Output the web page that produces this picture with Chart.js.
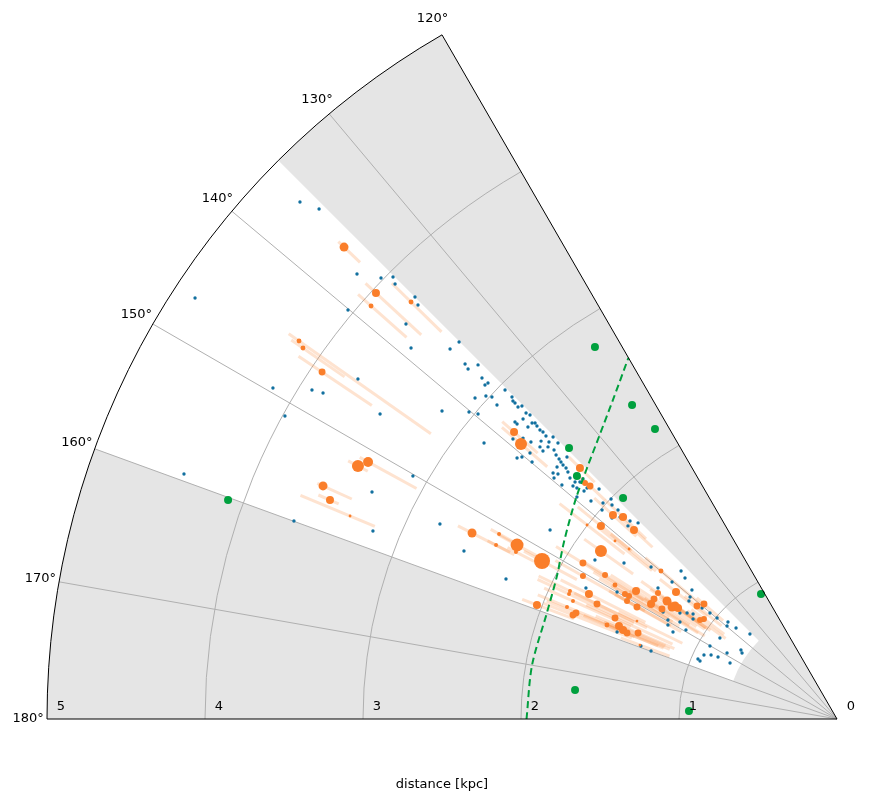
<!DOCTYPE html>
<html>
<head>
<meta charset="utf-8">
<script src="https://cdn.jsdelivr.net/npm/chart.js@4.4.1/dist/chart.umd.min.js"></script>
<style>
    html, body { margin: 0; padding: 0; background: #fff; overflow: hidden; }
    canvas { display: block; }
</style>
</head>
<body>
<canvas id="chart" width="874" height="805"></canvas>
<script>
// heliocentric positions in kpc (x toward l=0, y toward l=90)
const blueX = [-4.063,-3.399,-3.278,-3.038,-2.886,-2.810,-2.797,-2.671,-2.652,-3.095,-2.728,-2.696,-2.449,-2.392,-3.570,-3.323,-3.253,-3.032,-3.494,-2.892,-2.500,-4.133,-2.684,-2.943,-3.437,-2.937,-2.513,-2.361,-2.095,-1.816,-2.234,
    -2.354,-2.335,-2.272,-2.247,-2.228,-2.209,-2.222,-2.184,-2.291,-2.152,-2.101,-2.057,-2.051,-2.038,-2.019,-1.994,-1.968,-1.943,-2.329,-2.272,
    -2.038,-2.025,-1.987,-1.956,-1.930,-1.911,-1.899,-1.880,-1.861,
    -2.051,-1.987,-1.937,-1.873,-1.823,-1.766,
    -1.880,-1.861,-1.829,-1.791,
    -2.025,-1.994,-1.943,-1.930,
    -1.778,-1.759,-1.747,-1.709,-1.734,
    -1.772,-1.715,-1.703,-1.797,-1.791,-1.766,
    -1.690,-1.658,-1.627,-1.608,
    -1.671,-1.646,-1.582,-1.741,-1.601,-1.506,-1.646,
    -1.842,-1.797,
    -1.557,-1.481,-1.487,-1.430,-1.424,-1.386,-1.373,-1.310,-1.323,-1.259,-1.424,
    -1.532,-1.348,-1.177,-1.589,-1.392,-1.392,-1.177,-1.241,
    -0.987,-0.962,-1.044,-1.133,-0.918,
    -0.930,-0.937,-0.848,-0.804,-0.949,-0.911,-0.848,-0.759,-0.690,-0.696,-0.639,-1.070,-1.038,-0.956,-0.911,-0.994,-1.070,-0.854,-1.101,-0.994,
    -0.741,-0.551,-0.804,-0.608,-0.601,-0.696,-0.753,-0.797,-0.842,-0.880,-0.867,-0.677];
const blueY = [2.665,3.272,3.228,2.816,2.791,2.797,2.753,2.671,2.620,2.589,2.500,2.348,2.342,2.386,2.095,2.082,2.063,2.152,1.918,1.930,1.949,1.551,1.538,1.437,1.253,1.190,1.234,1.063,0.886,1.196,1.747,
    2.247,2.215,2.241,2.158,2.114,2.127,2.044,2.038,2.032,1.987,2.082,2.038,2.013,2.000,1.975,1.981,1.937,1.924,1.943,1.930,
    1.880,1.867,1.899,1.848,1.873,1.873,1.854,1.829,1.816,
    1.772,1.778,1.753,1.759,1.753,1.747,
    1.722,1.696,1.722,1.703,
    1.652,1.658,1.684,1.627,
    1.671,1.646,1.627,1.658,1.608,
    1.595,1.589,1.563,1.557,1.525,1.551,
    1.525,1.500,1.500,1.519,
    1.475,1.462,1.462,1.481,1.443,1.456,1.405,
    1.791,1.785,
    1.380,1.367,1.323,1.392,1.354,1.323,1.278,1.253,1.222,1.241,1.272,
    1.006,0.987,0.962,0.829,0.804,0.551,0.430,0.462,
    0.937,0.892,0.867,0.829,0.816,
    0.772,0.747,0.722,0.671,0.671,0.665,0.627,0.639,0.614,0.589,0.576,0.627,0.551,0.563,0.633,0.614,0.595,0.703,0.677,0.671,
    0.513,0.538,0.462,0.437,0.418,0.418,0.392,0.405,0.405,0.380,0.367,0.354];

const orangeX = [-3.120,-2.918,-2.949,-2.696,-3.405,-3.380,-3.259,-3.032,-2.968,-3.253,-3.209,-3.082,-2.310,-2.139,-2.158,-2.025,-2.032,-1.867,-2.044,-2.000,-1.627,-1.595,-1.563,-1.418,-1.354,-1.285,-1.494,-1.582,-1.405,-1.316,-1.494,-1.608,-1.608,-1.468,-1.405,-1.272,-1.342,-1.316,-1.329,-1.266,-1.177,-1.158,-1.133,-1.114,-1.019,-1.076,-1.044,-1.025,-1.006,-1.108,-0.886,-0.842,-0.842,-0.867,-1.690,-1.696,-1.671,-1.570,-1.519,-1.899,-1.652,-1.671,-1.405,-1.380,-1.354,-1.329,-1.259,-1.456,-1.266,-1.247,-1.709];
const orangeY = [2.987,2.696,2.614,2.639,2.392,2.348,2.196,1.601,1.627,1.475,1.386,1.285,1.177,1.171,1.101,1.101,1.057,1.000,1.816,1.741,1.589,1.494,1.475,1.291,1.278,1.196,1.222,1.228,1.127,1.076,1.063,0.987,0.905,0.911,0.848,0.810,0.791,0.778,0.747,0.709,0.728,0.759,0.797,0.937,0.804,0.747,0.709,0.715,0.703,0.696,0.715,0.728,0.633,0.627,0.810,0.791,0.747,0.791,0.728,0.722,0.671,0.658,0.639,0.589,0.563,0.544,0.544,0.595,0.620,0.468,0.709];
const orangeMass = [20,16,6,6,6,6,12,36,25,20,16,2,20,4,4,42,4,64,16,36,16,9,12,16,16,16,16,2,2,2,36,12,9,9,6,16,9,9,9,12,16,12,9,6,16,20,20,20,16,12,12,12,9,9,4,4,4,16,12,16,12,12,12,16,16,12,12,6,2,2,4];
// distance uncertainties, kpc (lo = toward the Sun)
const orangeErrLo = [.14,.39,.30,.27,1.02,.32,.38,.07,.35,.20,.06,.17,.30,.10,.10,.20,.13,.25,.20,.22,.13,.06,.13,.20,.20,.16,.25,.30,.30,.22,.25,
    .45,.45,.40,.40,.40,.40,.32,.32,.32,.35,.32,.32,.35,.25,.30,.25,.25,.25,.32,.20,.16,.16,.20,.45,.45,.40,.40,.35,.25,.40,.40,.40,.32,.32,.25,.25,.35,.32,.20,.40];
const orangeErrHi = [.05,.09,.11,.17,.08,.09,.18,.07,.06,.04,.08,.34,.10,.06,.06,.13,.06,.13,.10,.16,.10,.06,.08,.16,.16,.13,.19,.22,.15,.15,.13,.20,.20,.16,.16,.19,.19,.13,.13,.16,.16,.13,.13,.13,.13,.13,.10,.10,.10,.13,.10,.06,.10,.10,.22,.22,.20,.20,.16,.10,.20,.20,.20,.16,.13,.13,.13,.16,.13,.13,.20];

const greenX = [-1.532,-1.297,-1.152,-3.854,-1.658,-0.937,-0.481,-1.354,-1.696,-1.646];
const greenY = [2.354,1.987,1.835,1.386,0.184,0.051,0.791,1.399,1.715,1.538];

// dashed arm trace: longitude (deg) and distance (kpc)
const armL = [180, 170, 160, 153, 147, 140, 135, 130, 125, 120];
const armD = [1.965, 1.96, 1.955, 1.99, 2.06, 2.16, 2.24, 2.34, 2.47, 2.64];

const distTicks = [0, 1, 2, 3, 4, 5];
const angleTicks = [120, 130, 140, 150, 160, 170, 180];
const surveyL = [135, 160];
const surveyMinD = 0.7;
const maxD = 5;

const rad = l => l * Math.PI / 180;
const points = (xs, ys) => xs.map((x, i) => ({ x: x, y: ys[i] }));
const armPoints = armL.map((l, i) => ({ x: armD[i] * Math.cos(rad(l)), y: armD[i] * Math.sin(rad(l)) }));

const polarFrame = {
    id: `polarFrame`,
    beforeDatasetsDraw(chart) {
        const { ctx, scales: { x, y } } = chart;
        const ox = x.getPixelForValue(0), oy = y.getPixelForValue(0);
        const unit = x.getPixelForValue(1) - ox;
        const a = l => -rad(l);
        ctx.save();
        // excluded area
        ctx.fillStyle = `#e5e5e5`;
        ctx.beginPath();
        ctx.moveTo(ox, oy);
        ctx.arc(ox, oy, maxD * unit, a(120), a(180), true);
        ctx.closePath();
        ctx.fill();
        // surveyed wedge
        ctx.fillStyle = `#ffffff`;
        ctx.beginPath();
        ctx.arc(ox, oy, maxD * unit, a(surveyL[0]), a(surveyL[1]), true);
        ctx.arc(ox, oy, surveyMinD * unit, a(surveyL[1]), a(surveyL[0]), false);
        ctx.closePath();
        ctx.fill();
        // grid
        ctx.strokeStyle = `#b0b0b0`;
        ctx.lineWidth = 1;
        distTicks.slice(1, -1).forEach(d => {
            ctx.beginPath();
            ctx.arc(ox, oy, d * unit, a(120), a(180), true);
            ctx.stroke();
        });
        angleTicks.slice(1, -1).forEach(l => {
            ctx.beginPath();
            ctx.moveTo(ox, oy);
            ctx.lineTo(ox + maxD * unit * Math.cos(rad(l)), oy - maxD * unit * Math.sin(rad(l)));
            ctx.stroke();
        });
        // distance error bars
        ctx.strokeStyle = `rgba(250, 126, 42, 0.22)`;
        ctx.lineWidth = 3;
        orangeX.forEach((px, i) => {
            const py = orangeY[i];
            const d = Math.hypot(px, py);
            const ux = px / d, uy = py / d;
            const d0 = d - orangeErrLo[i], d1 = d + orangeErrHi[i];
            ctx.beginPath();
            ctx.moveTo(x.getPixelForValue(ux * d0), y.getPixelForValue(uy * d0));
            ctx.lineTo(x.getPixelForValue(ux * d1), y.getPixelForValue(uy * d1));
            ctx.stroke();
        });
        ctx.restore();
    },
    afterDatasetsDraw(chart) {
        const { ctx, scales: { x, y } } = chart;
        const ox = x.getPixelForValue(0), oy = y.getPixelForValue(0);
        const unit = x.getPixelForValue(1) - ox;
        const a = l => -rad(l);
        ctx.save();
        ctx.strokeStyle = `#000`;
        ctx.lineWidth = 1;
        ctx.beginPath();
        ctx.moveTo(ox + maxD * unit * Math.cos(rad(120)), oy - maxD * unit * Math.sin(rad(120)));
        ctx.lineTo(ox, oy);
        ctx.lineTo(ox - maxD * unit, oy);
        ctx.arc(ox, oy, maxD * unit, a(180), a(120), false);
        ctx.stroke();

        ctx.fillStyle = `#000`;
        ctx.font = `13px "DejaVu Sans"`;
        ctx.textAlign = `center`;
        ctx.textBaseline = `middle`;
        angleTicks.forEach(l => {
            const r = 5.12 * unit;
            ctx.fillText(`${l}°`, ox + r * Math.cos(rad(l)), oy - r * Math.sin(rad(l)));
        });
        distTicks.forEach(d => {
            ctx.fillText(`${d}`, ox - d * unit + 14, oy - 12);
        });
        ctx.fillText(`distance [kpc]`, ox - 2.5 * unit, oy + 66);
        ctx.restore();
    }
};

const ctx = document.getElementById(`chart`).getContext(`2d`);
new Chart(ctx, {
    type: `scatter`,
    data: {
        datasets: [
            {
                label: `arm`,
                type: `line`,
                data: armPoints,
                borderColor: `#00a03e`,
                borderWidth: 2,
                borderDash: [7, 4],
                pointRadius: 0,
                tension: 0.3,
                fill: false,
                order: 0
            },
            {
                label: `green`,
                data: points(greenX, greenY),
                backgroundColor: `#00a03e`,
                pointRadius: 4,
                pointBorderWidth: 0,
                order: 1
            },
            {
                label: `orange`,
                data: points(orangeX, orangeY),
                backgroundColor: `#fa7e2a`,
                pointRadius: orangeMass.map(m => Math.sqrt(m)),
                pointBorderWidth: 0,
                order: 2
            },
            {
                label: `blue`,
                data: points(blueX, blueY),
                backgroundColor: `#12709f`,
                pointRadius: 1.7,
                pointBorderWidth: 0,
                order: 3
            }
        ]
    },
    options: {
        responsive: false,
        animation: false,
        layout: { padding: 0, autoPadding: false },
        plugins: { legend: { display: false }, tooltip: { enabled: false } },
        scales: {
            x: { type: `linear`, display: false, min: -837 / 158, max: 37 / 158 },
            y: { type: `linear`, display: false, min: -86 / 158, max: 719 / 158 }
        }
    },
    plugins: [polarFrame]
});
</script>
</body>
</html>
